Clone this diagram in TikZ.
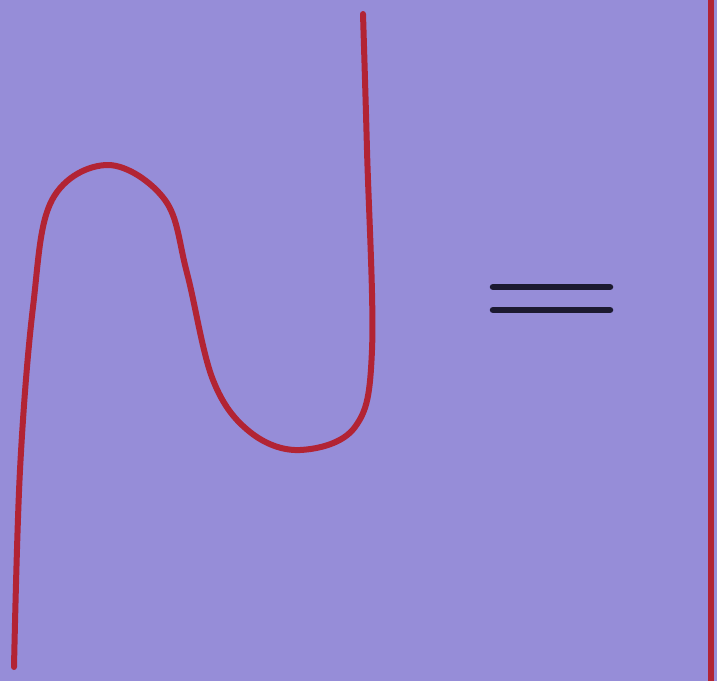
\documentclass[tikz,border=0pt]{standalone}
\definecolor{boardbg}{RGB}{150,141,216}
\definecolor{ropered}{RGB}{178,36,52}
\definecolor{inkdark}{RGB}{28,26,48}
\begin{document}
\begin{tikzpicture}[x=1pt,y=-1pt,
    rope/.style={ropered,line width=6pt,line cap=round,line join=round},
    eqbar/.style={inkdark,line width=6.5pt,line cap=round}]
  \fill[boardbg] (0,0) rectangle (717,681);
  \useasboundingbox (0,0) rectangle (717,681);
  % bent strand
  \draw[rope] plot[smooth,tension=0.6] coordinates {
    (14,667) (20,470) (33,307) (52,200)
    (108,165) (165,200) (187,273)
    (213,380) (250,432) (300,450) (355,427)
    (372,350) (367,150) (363,14)};
  % equals sign
  \draw[eqbar] (493,287) -- (610,287);
  \draw[eqbar] (493,310) -- (610,310);
  % straight strand
  \draw[rope,line cap=butt] (711,0) -- (711,681);
\end{tikzpicture}
\end{document}
